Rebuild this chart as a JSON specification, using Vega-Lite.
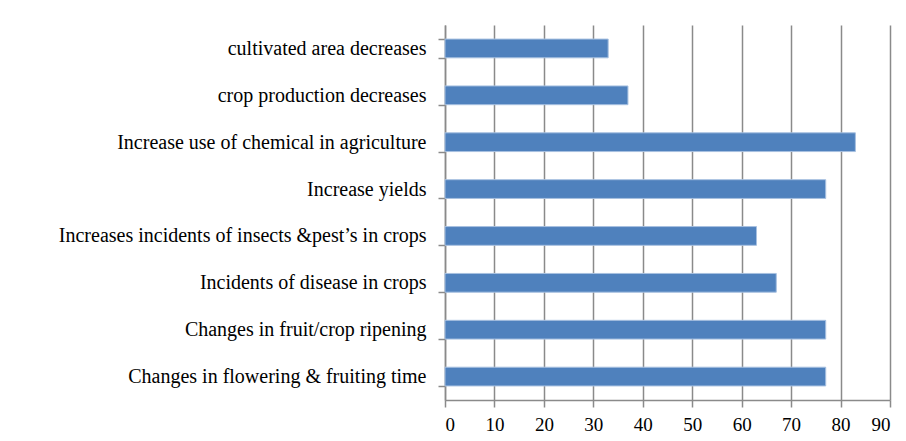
{
  "$schema": "https://vega.github.io/schema/vega-lite/v6.json",
  "autosize": "none",
  "width": 445,
  "height": 375,
  "padding": {"left": 445, "top": 25, "right": 16, "bottom": 41},
  "background": "white",
  "config": {
    "view": {"stroke": null},
    "font": "Liberation Serif"
  },
  "data": {
    "values": [
      {"impact": "cultivated area decreases", "value": 33},
      {"impact": "crop production decreases", "value": 37},
      {"impact": "Increase use of chemical in agriculture", "value": 83},
      {"impact": "Increase yields", "value": 77},
      {"impact": "Increases incidents  of insects &pest’s in crops", "value": 63},
      {"impact": "Incidents of disease in crops", "value": 67},
      {"impact": "Changes in  fruit/crop ripening", "value": 77},
      {"impact": "Changes in  flowering & fruiting time", "value": 77}
    ]
  },
  "mark": {"type": "bar", "color": "#4F81BD", "stroke": "#A7C0E0", "strokeWidth": 1},
  "encoding": {
    "y": {
      "field": "impact",
      "type": "nominal",
      "sort": null,
      "title": null,
      "scale": {"paddingInner": 0.6, "paddingOuter": 0.3},
      "axis": {
        "tickBand": "extent",
        "domainColor": "#8a8a8a",
        "domainWidth": 1.5,
        "tickColor": "#8a8a8a",
        "tickWidth": 1.5,
        "tickSize": 7,
        "labelPadding": 12,
        "labelFont": "Liberation Serif",
        "labelFontSize": 20,
        "labelColor": "#000000",
        "labelLimit": 0,
        "grid": false
      }
    },
    "x": {
      "field": "value",
      "type": "quantitative",
      "title": null,
      "scale": {"domain": [0, 90], "nice": false},
      "axis": {
        "values": [0, 10, 20, 30, 40, 50, 60, 70, 80, 90],
        "grid": true,
        "gridColor": "#8a8a8a",
        "gridWidth": 1.5,
        "domainColor": "#8a8a8a",
        "domainWidth": 1.5,
        "tickColor": "#8a8a8a",
        "tickWidth": 1.5,
        "tickSize": 7,
        "labelPadding": 8,
        "labelFont": "Liberation Serif",
        "labelFontSize": 19,
        "labelColor": "#000000"
      }
    }
  }
}
